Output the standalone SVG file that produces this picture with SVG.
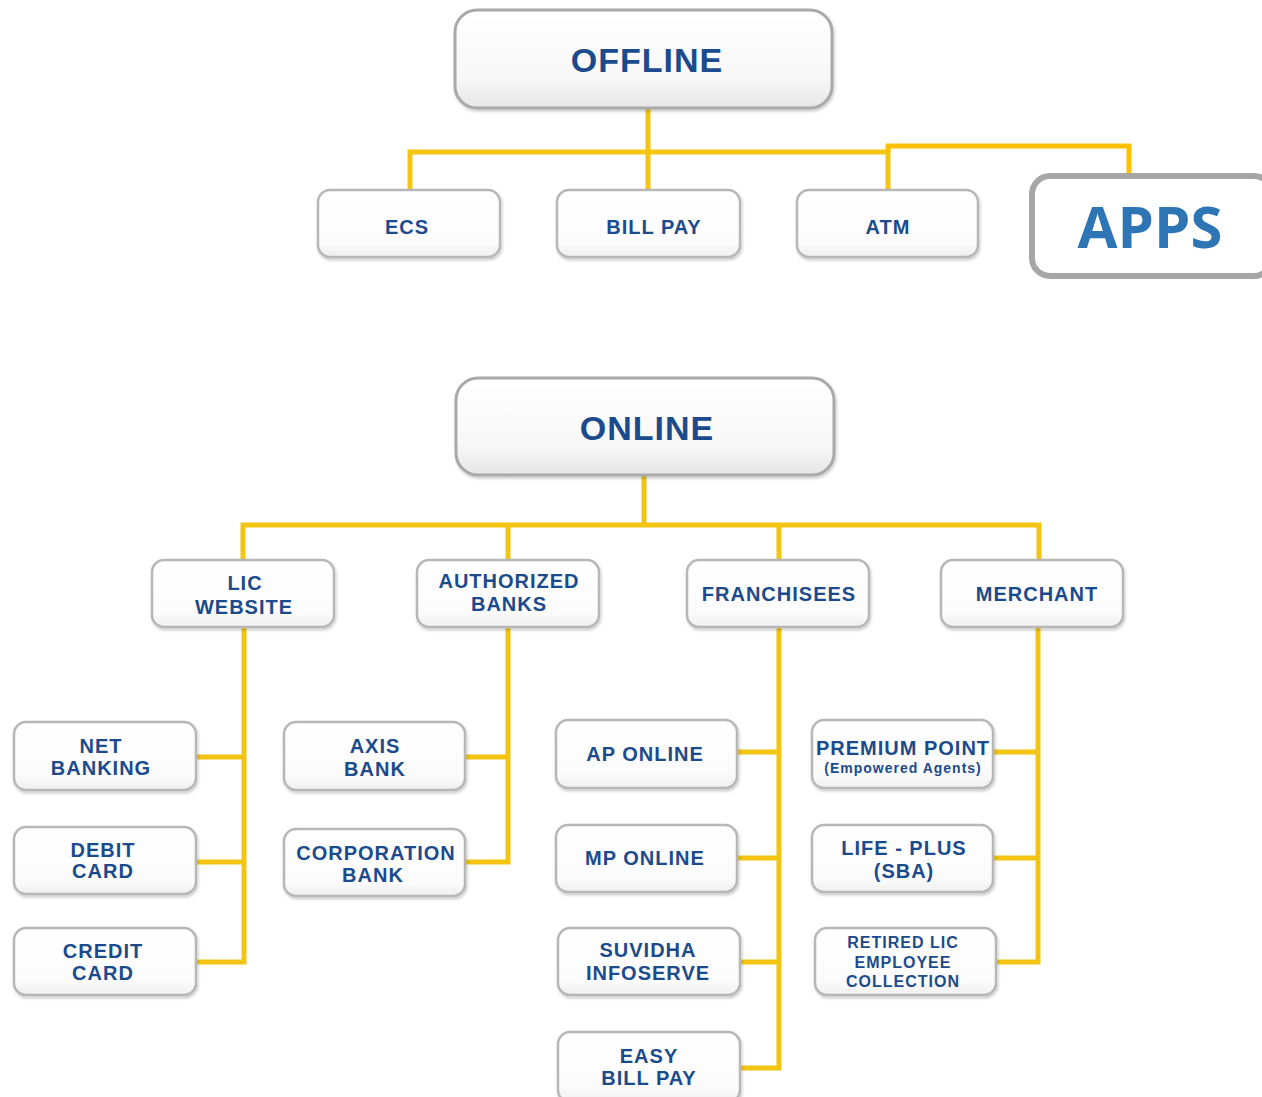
<svg xmlns="http://www.w3.org/2000/svg" width="1262" height="1097" viewBox="0 0 1262 1097">
<defs>
<linearGradient id="gBig" x1="0" y1="0" x2="0" y2="1">
<stop offset="0" stop-color="#ffffff"/><stop offset="0.7" stop-color="#f7f7f7"/><stop offset="1" stop-color="#e6e6e6"/>
</linearGradient>
<linearGradient id="gSmall" x1="0" y1="0" x2="0" y2="1">
<stop offset="0" stop-color="#ffffff"/><stop offset="0.8" stop-color="#fbfbfb"/><stop offset="1" stop-color="#efefef"/>
</linearGradient>
<filter id="sh" x="-10%" y="-10%" width="120%" height="130%">
<feDropShadow dx="1" dy="2" stdDeviation="1.5" flood-color="#000" flood-opacity="0.22"/>
</filter>
</defs>
<style>
.big{fill:url(#gBig);stroke:#a9a9a9;stroke-width:3;filter:url(#sh)}
.box{fill:url(#gSmall);stroke:#b7b7b7;stroke-width:2.5;filter:url(#sh)}
.t{font-family:"Liberation Sans",Arial,sans-serif;font-weight:bold;fill:#1b4b8c;text-anchor:middle;dominant-baseline:central;letter-spacing:1px}
.tb{font-size:34px}
.ts{font-size:20px}
.con{stroke:#f3c412;stroke-width:5;fill:none;stroke-linecap:square}
</style>
<rect width="1262" height="1097" fill="#ffffff"/>
<g id="connectors">
<path class="con" d="M648 108V188M410 152H888M410 152V189M888 152V188"/>
<path d="M888 152V146H1129V173" stroke="#ffc000" stroke-width="5" fill="none"/>
<path class="con" d="M644 476V525M243 525H1039M243 525V559M508 525V559M779 525V559M1039 525V559"/>
<path class="con" d="M244 628V962M197 757H244M197 862H244M197 962H244"/>
<path class="con" d="M508 628V862M466 757H508M466 862H508"/>
<path class="con" d="M779 628V1068M738 752H779M738 858H779M741 962H779M741 1068H779"/>
<path class="con" d="M1038 628V962M994 752H1038M994 858H1038M997 962H1038"/>
</g>
<g id="offline"><rect class="big" x="455" y="10" width="377" height="98" rx="22"/><text class="t tb" x="647" y="60">OFFLINE</text></g>
<g id="ecs"><rect class="box" x="318" y="190" width="182" height="67" rx="12"/><text class="t ts" x="407" y="227">ECS</text></g>
<g id="billpay"><rect class="box" x="557" y="190" width="183" height="67" rx="12"/><text class="t ts" x="654" y="227">BILL PAY</text></g>
<g id="atm"><rect class="box" x="797" y="190" width="181" height="67" rx="12"/><text class="t ts" x="888" y="227">ATM</text></g>
<g id="apps"><rect x="1032" y="176" width="240" height="100" rx="18" fill="#ffffff" stroke="#a6a6a6" stroke-width="6"/><text x="1150" y="225" font-family="'Open Sans','Liberation Sans',sans-serif" font-weight="bold" font-size="58" fill="#2e75b6" text-anchor="middle" dominant-baseline="central">APPS</text></g>

<g id="online"><rect class="big" x="456" y="378" width="378" height="97" rx="22"/><text class="t tb" x="647" y="428">ONLINE</text></g>
<g id="licwebsite"><rect class="box" x="152" y="560" width="182" height="67" rx="12"/><text class="t ts" x="245" y="583">LIC</text><text class="t ts" x="244" y="607">WEBSITE</text></g>
<g id="authbanks"><rect class="box" x="417" y="560" width="182" height="67" rx="12"/><text class="t ts" x="509" y="581">AUTHORIZED</text><text class="t ts" x="509" y="604">BANKS</text></g>
<g id="franchisees"><rect class="box" x="687" y="560" width="182" height="67" rx="12"/><text class="t ts" x="779" y="594" letter-spacing="1.2">FRANCHISEES</text></g>
<g id="merchant"><rect class="box" x="941" y="560" width="182" height="67" rx="12"/><text class="t ts" x="1037" y="594" letter-spacing="1.4">MERCHANT</text></g>

<g id="netbanking"><rect class="box" x="14" y="722" width="182" height="68" rx="12"/><text class="t ts" x="101" y="746">NET</text><text class="t ts" x="101" y="768" letter-spacing="1.3">BANKING</text></g>
<g id="debitcard"><rect class="box" x="14" y="827" width="182" height="67" rx="12"/><text class="t ts" x="103" y="850">DEBIT</text><text class="t ts" x="103" y="871">CARD</text></g>
<g id="creditcard"><rect class="box" x="14" y="928" width="182" height="67" rx="12"/><text class="t ts" x="103" y="951">CREDIT</text><text class="t ts" x="103" y="973">CARD</text></g>

<g id="axisbank"><rect class="box" x="284" y="722" width="181" height="68" rx="12"/><text class="t ts" x="375" y="746">AXIS</text><text class="t ts" x="375" y="769">BANK</text></g>
<g id="corpbank"><rect class="box" x="284" y="829" width="181" height="67" rx="12"/><text class="t ts" x="376" y="853">CORPORATION</text><text class="t ts" x="373" y="875">BANK</text></g>

<g id="aponline"><rect class="box" x="556" y="720" width="181" height="68" rx="12"/><text class="t ts" x="645" y="754">AP ONLINE</text></g>
<g id="mponline"><rect class="box" x="556" y="825" width="181" height="67" rx="12"/><text class="t ts" x="645" y="858">MP ONLINE</text></g>
<g id="suvidha"><rect class="box" x="558" y="928" width="182" height="67" rx="12"/><text class="t ts" x="648" y="950">SUVIDHA</text><text class="t ts" x="648" y="973">INFOSERVE</text></g>
<g id="easybillpay"><rect class="box" x="558" y="1032" width="182" height="70" rx="12"/><text class="t ts" x="649" y="1056">EASY</text><text class="t ts" x="649" y="1078">BILL PAY</text></g>

<g id="premiumpoint"><rect class="box" x="812" y="720" width="181" height="68" rx="12"/><text class="t ts" x="903" y="748" font-size="19">PREMIUM POINT</text><text class="t" x="903" y="768" font-size="14" font-weight="normal" letter-spacing="0.5">(Empowered Agents)</text></g>
<g id="lifeplus"><rect class="box" x="812" y="825" width="181" height="67" rx="12"/><text class="t ts" x="904" y="848">LIFE - PLUS</text><text class="t ts" x="904" y="871">(SBA)</text></g>
<g id="retired"><rect class="box" x="815" y="928" width="181" height="67" rx="12"/><text class="t" x="903" y="942" font-size="16">RETIRED LIC</text><text class="t" x="903" y="962" font-size="16">EMPLOYEE</text><text class="t" x="903" y="981" font-size="16">COLLECTION</text></g>
</svg>
